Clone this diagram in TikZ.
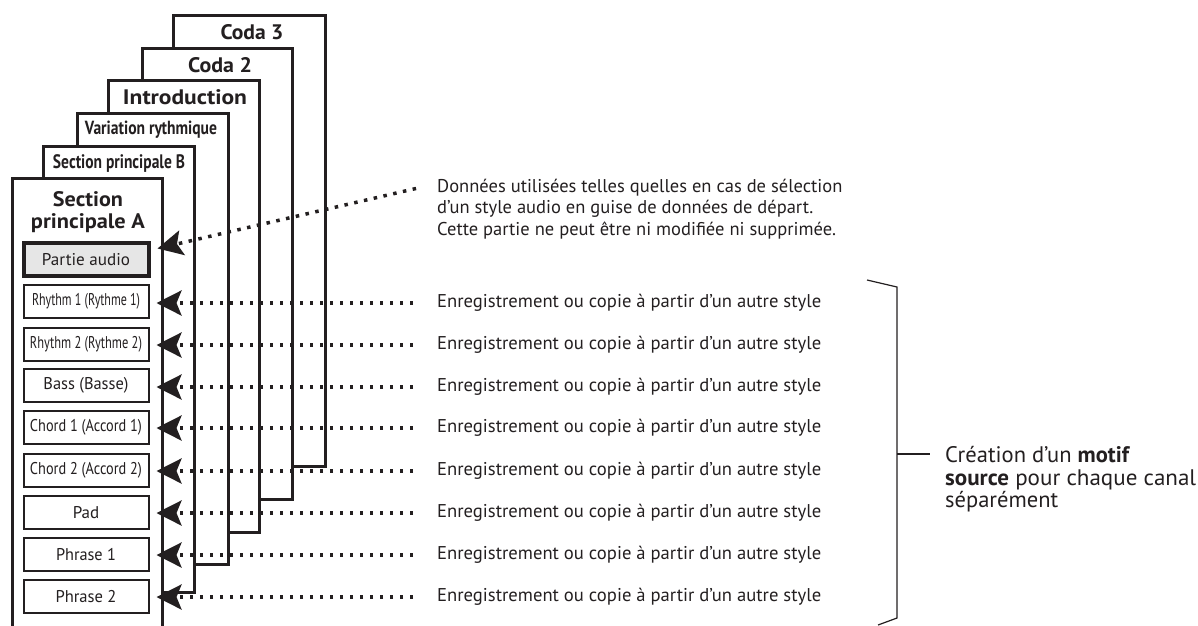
\documentclass[tikz,border=0pt]{standalone}
\usepackage{fontspec}
\setmainfont{PT Sans}
\usetikzlibrary{arrows.meta}
\newcommand{\fw}[2]{\resizebox{#1}{\height}{#2}}
\definecolor{ink}{HTML}{231F20}
\definecolor{audiofill}{HTML}{E6E6E6}
\tikzset{
  panel/.style={draw=ink, line width=3pt, fill=white},
  ptitle/.style={font=\bfseries\fontsize{21}{23}\selectfont, text=ink, inner sep=0pt},
  chbox/.style={draw=ink, line width=2pt, fill=white, minimum width=125pt, minimum height=33pt, inner sep=0pt, font=\fontsize{17}{19}\selectfont, text=ink},
  audiobox/.style={chbox, line width=4pt, fill=audiofill},
  conn/.style={draw=ink, line width=3.5pt, dash pattern=on 3.5pt off 6.5pt, shorten <=2pt,
    -{Stealth[length=25pt, width=25pt, inset=5pt]}},
  note/.style={font=\fontsize{18.5}{21.5}\selectfont, text=ink, inner sep=0pt, anchor=west},
  bignote/.style={font=\fontsize{22.5}{23}\selectfont, text=ink, inner sep=0pt, anchor=base west},
}
\begin{document}
\begin{tikzpicture}[x=1pt,y=-1pt]
\useasboundingbox (0,0) rectangle (1198,625);
\clip (0,0) rectangle (1198,625);
% stacked panels (back to front)
\draw[panel] (173,15) rectangle (325,466);
\node[ptitle] (t6) at (252,32) {\fw{63pt}{Coda 3}};
\draw[panel] (142,48) rectangle (292,499);
\node[ptitle] (t5) at (220,65) {\fw{64pt}{Coda 2}};
\draw[panel] (108,80) rectangle (259,532);
\node[ptitle] (t4) at (185,97) {\fw{124pt}{Introduction}};
\draw[panel] (77,113) rectangle (228,564);
\node[ptitle, font=\bfseries\fontsize{19}{21}\selectfont] (t3) at (151,130) {\fw{132pt}{Variation rythmique}};
\draw[panel] (43,146) rectangle (194,592);
\node[ptitle, font=\bfseries\fontsize{19.5}{21}\selectfont] (t2) at (119,163) {\fw{132pt}{Section principale B}};
\draw[panel] (12,178) rectangle (162,660);
\node[ptitle, align=center, font=\bfseries\fontsize{21}{21.5}\selectfont] (t1) at (88,212) {\fw{70pt}{Section}\\\fw{114pt}{principale A}};
% channel boxes
\node[audiobox] (b0) at (86,259.5) {\fw{88pt}{Partie audio}};
\node[chbox] (b1) at (86,301) {\fw{108pt}{Rhythm 1 (Rythme 1)}};
\node[chbox] (b2) at (86,344) {\fw{112pt}{Rhythm 2 (Rythme 2)}};
\node[chbox] (b3) at (86,385.5) {\fw{85pt}{Bass (Basse)}};
\node[chbox] (b4) at (86,427) {\fw{112pt}{Chord 1 (Accord 1)}};
\node[chbox] (b5) at (86,470) {\fw{112pt}{Chord 2 (Accord 2)}};
\node[chbox] (b6) at (86,512.5) {Pad};
\node[chbox] (b7) at (86,554.5) {\fw{60pt}{Phrase 1}};
\node[chbox] (b8) at (86,596.5) {\fw{61pt}{Phrase 2}};
% audio note
\coordinate (s0) at (418,188);
\draw[conn] (s0) -- ([xshift=7pt,yshift=11pt]b0.east);
\node[note, align=left] (n0) at (437,209) {Données utilisées telles quelles en cas de sélection\\d'un style audio en guise de données de départ.\\Cette partie ne peut être ni modifiée ni supprimée.};
% recording notes
\foreach \i/\y in {1/303,2/345,3/387,4/428,5/471,6/513,7/555,8/597}{
  \coordinate (s\i) at (415,\y);
  \draw[conn] (s\i) -- ([xshift=7pt]b\i.east |- s\i);
  \node[note] (n\i) at (437,\y) {\fw{384pt}{Enregistrement ou copie à partir d'un autre style}};
}
% bracket
\coordinate (bt0) at (867,280);
\coordinate (bt1) at (897,287);
\coordinate (bb1) at (897,618);
\coordinate (bb0) at (878,625);
\coordinate (bm) at (897,454);
\coordinate (bm2) at (930,454);
\draw[ink, line width=1.2pt] (bt0) -- (bt1) -- (bb1) -- (bb0);
\draw[ink, line width=1.2pt] (bm) -- (bm2);
\node[bignote] (cr1) at (945,462) {\fw{185pt}{Création d'un \textbf{motif}}};
\node[bignote] (cr2) at (945,485) {\fw{251pt}{\textbf{source} pour chaque canal}};
\node[bignote] (cr3) at (945,507.5) {\fw{113pt}{séparément}};
\end{tikzpicture}
\end{document}
